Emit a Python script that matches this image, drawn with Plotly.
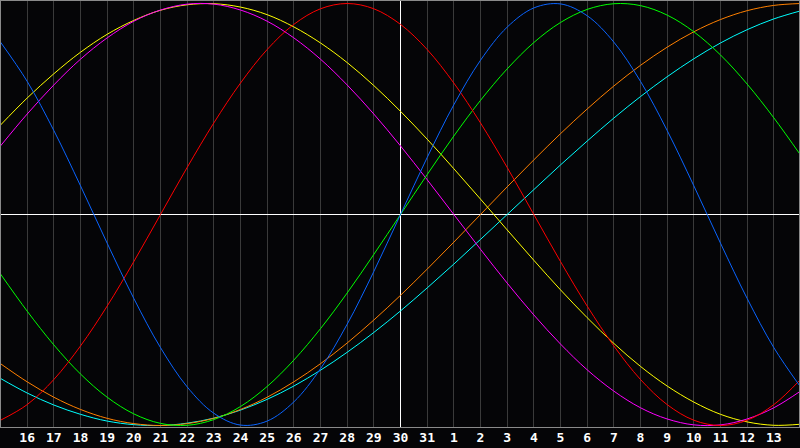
import plotly.graph_objects as go

# Day index 0..30 across the chart (index 15 = day "30", the marked day)
day_index = list(range(31))
day_labels = ["15", "16", "17", "18", "19", "20", "21", "22", "23", "24", "25", "26", "27", "28",
              "29", "30", "31", "1", "2", "3", "4", "5", "6", "7", "8", "9", "10", "11", "12",
              "13", "14"]
today_index = 15

blue = [0.817, 0.631, 0.398, 0.136, -0.136, -0.398, -0.631, -0.817, -0.942, -0.998, -0.979,
        -0.888, -0.731, -0.520, -0.270, 0.0, 0.270, 0.520, 0.731, 0.888, 0.979, 0.998, 0.942,
        0.817, 0.631, 0.398, 0.136, -0.136, -0.398, -0.631, -0.817]
red = [-0.975, -0.901, -0.782, -0.623, -0.434, -0.223, 0.0, 0.223, 0.434, 0.623, 0.782, 0.901,
       0.975, 1.0, 0.975, 0.901, 0.782, 0.623, 0.434, 0.223, 0.0, -0.223, -0.434, -0.623,
       -0.782, -0.901, -0.975, -1.0, -0.975, -0.901, -0.782]
green = [-0.282, -0.458, -0.618, -0.756, -0.866, -0.945, -0.990, -0.999, -0.972, -0.910,
         -0.815, -0.690, -0.541, -0.372, -0.189, 0.0, 0.189, 0.372, 0.541, 0.690, 0.815,
         0.910, 0.972, 0.999, 0.990, 0.945, 0.866, 0.756, 0.618, 0.458, 0.282]
magenta = [0.325, 0.476, 0.614, 0.736, 0.837, 0.916, 0.969, 0.997, 0.997, 0.969, 0.916, 0.837,
           0.736, 0.614, 0.476, 0.325, 0.165, 0.0, -0.165, -0.325, -0.476, -0.614, -0.736,
           -0.837, -0.916, -0.969, -0.997, -0.997, -0.969, -0.916, -0.837]
yellow = [0.424, 0.552, 0.667, 0.769, 0.854, 0.920, 0.968, 0.994, 0.999, 0.983, 0.947, 0.889,
          0.813, 0.720, 0.611, 0.489, 0.357, 0.217, 0.073, -0.073, -0.217, -0.357, -0.489,
          -0.611, -0.720, -0.813, -0.889, -0.947, -0.983, -0.999, -0.994]
orange = [-0.707, -0.793, -0.866, -0.924, -0.966, -0.991, -1.0, -0.991, -0.966, -0.924, -0.866,
          -0.793, -0.707, -0.609, -0.5, -0.383, -0.259, -0.131, 0.0, 0.131, 0.259, 0.383, 0.5,
          0.609, 0.707, 0.793, 0.866, 0.924, 0.966, 0.991, 1.0]
cyan = [-0.777, -0.846, -0.903, -0.947, -0.979, -0.996, -1.0, -0.989, -0.965, -0.927, -0.876,
        -0.813, -0.738, -0.653, -0.559, -0.457, -0.348, -0.235, -0.118, 0.0, 0.118, 0.235,
        0.348, 0.457, 0.559, 0.653, 0.738, 0.813, 0.876, 0.927, 0.965]

series = [
    ("cyan", cyan, "#00ffff"),
    ("orange", orange, "#ff8000"),
    ("yellow", yellow, "#ffff00"),
    ("magenta", magenta, "#ff00ff"),
    ("green", green, "#00ff00"),
    ("red", red, "#ff0000"),
    ("blue", blue, "#0a64ff"),
]

# plot area geometry (pixels)
W, H = 800, 428
x_lo, x_hi = -0.01875, 29.98125          # so day index 15 sits on a pixel centre
y_top = 214.5 / 211.0                     # 211 px per unit, zero on a pixel centre
y_bot = y_top - H / 211.0


def px_x(p):
    return x_lo + p * (x_hi - x_lo) / W


def px_y(p):
    return y_top - p * (y_top - y_bot) / H


fig = go.Figure()
# white reference lines (today and zero level)
fig.add_trace(go.Scatter(x=[today_index, today_index], y=[y_bot, y_top], mode="lines",
                         line=dict(color="white", width=1), hoverinfo="skip"))
fig.add_trace(go.Scatter(x=[x_lo, x_hi], y=[0, 0], mode="lines",
                         line=dict(color="white", width=1), hoverinfo="skip"))

for name, vals, col in series:
    fig.add_trace(go.Scatter(x=day_index, y=vals, mode="lines", name=name,
                             line=dict(color=col, width=1, shape="spline"),
                             hoverinfo="skip"))

tick_vals = day_index[1:30]
tick_text = day_labels[1:30]

border = dict(color="#8a8a8a", width=1)
fig.update_layout(
    width=800, height=448,
    margin=dict(l=0, r=0, t=0, b=20),
    paper_bgcolor="#050507",
    plot_bgcolor="#050507",
    showlegend=False,
    xaxis=dict(range=[x_lo, x_hi], tickvals=tick_vals, ticktext=tick_text,
               showgrid=True, gridcolor="#3a3a3a", gridwidth=1, zeroline=False,
               showline=False, ticks="", ticklen=0,
               tickfont=dict(color="white", family="DejaVu Sans Mono", size=13, weight="bold"),
               fixedrange=True),
    yaxis=dict(range=[y_bot, y_top], showgrid=False, zeroline=False, showticklabels=False,
               showline=False, fixedrange=True),
    shapes=[
        dict(type="line", xref="x", yref="y", x0=px_x(0.5), x1=px_x(0.5), y0=y_bot, y1=y_top,
             line=border, layer="above"),
        dict(type="line", xref="x", yref="y", x0=px_x(799.5), x1=px_x(799.5), y0=y_bot, y1=y_top,
             line=border, layer="above"),
        dict(type="line", xref="x", yref="y", x0=x_lo, x1=x_hi, y0=px_y(0.5), y1=px_y(0.5),
             line=border, layer="above"),
        dict(type="line", xref="x", yref="y", x0=x_lo, x1=x_hi, y0=px_y(427.5), y1=px_y(427.5),
             line=border, layer="above"),
    ],
)

fig.write_html("out.html", config={"displayModeBar": False, "staticPlot": True},
               post_script="document.body.style.margin='0px';document.body.style.overflow='hidden';")
